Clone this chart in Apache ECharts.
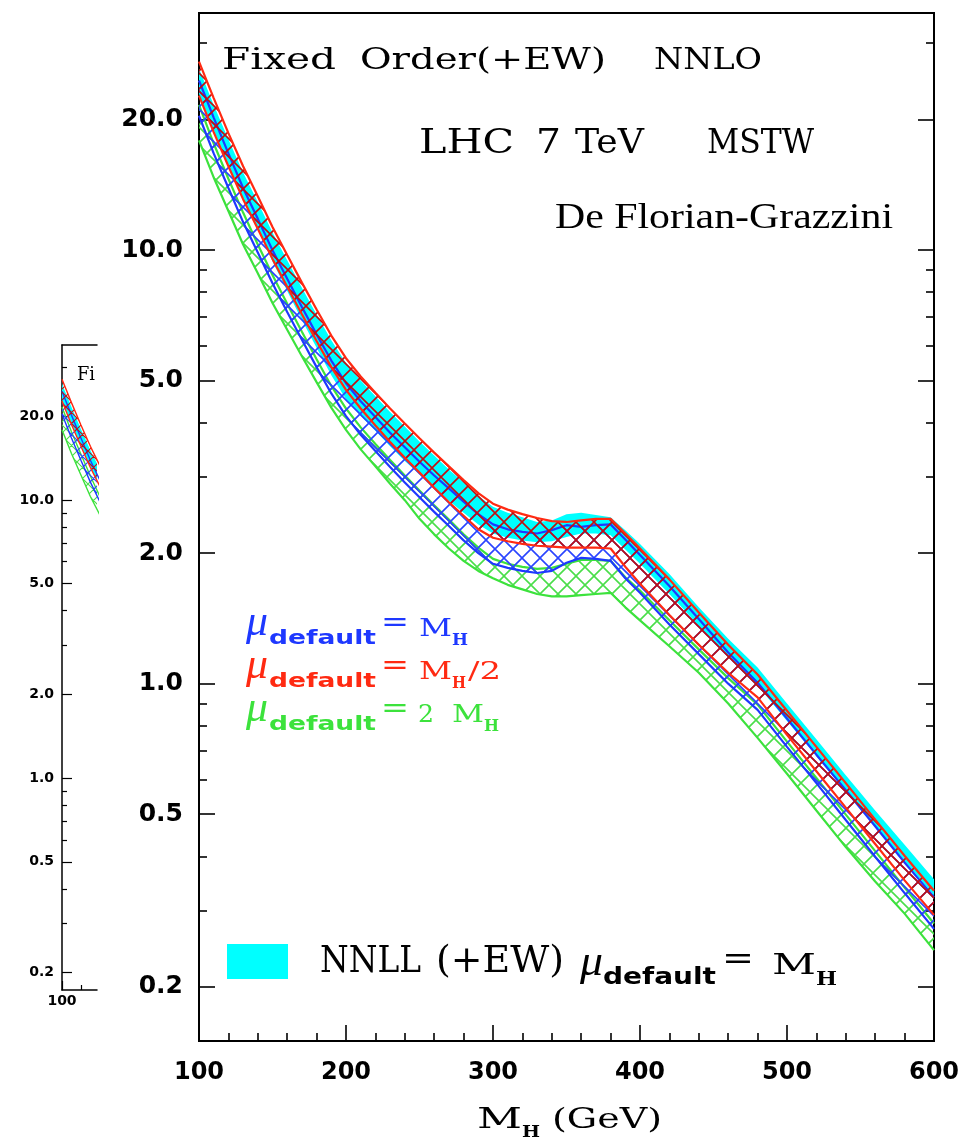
<!DOCTYPE html>
<html>
<head>
<meta charset="utf-8">
<script src="https://cdn.jsdelivr.net/npm/echarts@6/dist/echarts.min.js"></script>
<style>
  html, body { margin: 0; padding: 0; background: #ffffff; }
  #chart { width: 960px; height: 1141px; }
</style>
</head>
<body>
<div id="chart"></div>
<script>
// Higgs mass grid (GeV)
const massGeV = [100,110,120,130,140,150,160,170,180,190,200,210,220,230,240,250,260,270,280,290,300,310,320,330,340,350,360,370,380,390,400,420,440,460,480,500,520,540,560,580,600];

// NNLL (+EW), mu_default = M_H  (cross section, pb)
const nnllHigh = [26.2,21.6,18.0,15.1,12.9,10.97,9.47,8.18,7.10,6.19,5.49,5.00,4.60,4.23,3.92,3.62,3.36,3.12,2.91,2.71,2.56,2.48,2.42,2.36,2.38,2.46,2.48,2.45,2.42,2.26,2.10,1.79,1.50,1.27,1.09,0.90,0.745,0.615,0.51,0.425,0.354];
const nnllLow  = [22.9,18.9,15.7,13.2,11.2,9.41,8.04,6.90,5.95,5.14,4.53,4.14,3.83,3.53,3.26,3.04,2.83,2.64,2.48,2.33,2.22,2.17,2.14,2.12,2.13,2.18,2.22,2.22,2.20,2.04,1.89,1.61,1.36,1.16,0.99,0.82,0.68,0.565,0.47,0.39,0.325];

// Fixed order NNLO, mu_default = M_H
const muHHigh = [24.6,20.2,16.7,13.9,11.8,9.99,8.58,7.39,6.39,5.56,4.93,4.48,4.12,3.79,3.51,3.25,3.02,2.82,2.63,2.46,2.33,2.27,2.24,2.22,2.26,2.32,2.30,2.32,2.33,2.15,1.98,1.68,1.41,1.18,1.005,0.831,0.686,0.568,0.469,0.387,0.322];
const muHLow  = [20.4,16.7,13.9,11.6,9.87,8.38,7.20,6.21,5.37,4.67,4.14,3.75,3.44,3.16,2.91,2.69,2.49,2.31,2.14,2.00,1.89,1.85,1.82,1.80,1.82,1.90,1.95,1.94,1.92,1.75,1.62,1.37,1.17,1.00,0.87,0.715,0.59,0.485,0.399,0.329,0.272];

// Fixed order NNLO, mu_default = M_H/2
const muHalfHigh = [27.2,22.4,18.6,15.6,13.3,11.3,9.74,8.41,7.29,6.35,5.63,5.11,4.69,4.31,3.98,3.68,3.41,3.17,2.95,2.75,2.60,2.52,2.46,2.41,2.37,2.36,2.38,2.40,2.40,2.22,2.05,1.74,1.46,1.23,1.05,0.866,0.715,0.590,0.486,0.401,0.333];
const muHalfLow  = [22.7,18.7,15.6,13.1,11.2,9.54,8.23,7.11,6.17,5.37,4.76,4.31,3.94,3.61,3.32,3.07,2.83,2.62,2.44,2.27,2.17,2.13,2.10,2.08,2.07,2.06,2.06,2.06,2.05,1.86,1.70,1.44,1.23,1.06,0.93,0.762,0.628,0.518,0.427,0.352,0.293];

// Fixed order NNLO, mu_default = 2 M_H
const mu2High = [21.6,17.6,14.6,12.2,10.3,8.76,7.52,6.48,5.60,4.86,4.31,3.90,3.57,3.28,3.02,2.79,2.58,2.39,2.21,2.06,1.94,1.89,1.86,1.84,1.85,1.89,1.93,1.93,1.92,1.76,1.64,1.40,1.20,1.03,0.895,0.735,0.606,0.499,0.411,0.339,0.28];
const mu2Low  = [17.9,14.7,12.3,10.3,8.84,7.55,6.55,5.69,4.96,4.33,3.85,3.47,3.17,2.89,2.65,2.40,2.21,2.05,1.92,1.82,1.75,1.69,1.65,1.61,1.59,1.59,1.60,1.61,1.62,1.50,1.40,1.22,1.06,0.90,0.75,0.62,0.51,0.42,0.35,0.295,0.243];

// axis ticks
const yMajorTicks = [0.2, 0.5, 1, 2, 5, 10, 20];
const yMinorTicks = [0.3, 0.4, 0.6, 0.7, 0.8, 0.9, 3, 4, 6, 7, 8, 9, 30];
const insetXMajor = [100];
const insetXMinor = [120];

const RED = '#ff2a12', RED_HATCH = '#c01010';
const BLUE = '#1e38ff', BLUE_HATCH = '#2a44ff';
const GREEN = '#3ce23c', GREEN_HATCH = '#4ade4a';
const CYAN = '#00ffff';

function hatchPattern(color, size, width) {
  const c = document.createElement('canvas');
  c.width = size; c.height = size;
  const g = c.getContext('2d');
  g.strokeStyle = color;
  g.lineWidth = width;
  g.beginPath();
  for (const o of [-size, 0, size]) {
    g.moveTo(o - 1, -1); g.lineTo(o + size + 1, size + 1);
    g.moveTo(o + size + 1, -1); g.lineTo(o - 1, size + 1);
  }
  g.stroke();
  return { image: c, repeat: 'repeat' };
}

function bandSeries(lo, hi, fill, xIdx, yIdx, z) {
  return {
    type: 'custom',
    xAxisIndex: xIdx, yAxisIndex: yIdx, z: z, silent: true,
    data: massGeV.map((m, i) => [m, lo[i], hi[i]]),
    encode: { x: 0, y: [1, 2] },
    renderItem(params, api) {
      if (params.dataIndex !== 0) return null;
      const pts = [];
      for (let i = 0; i < massGeV.length; i++) pts.push(api.coord([massGeV[i], hi[i]]));
      for (let i = massGeV.length - 1; i >= 0; i--) pts.push(api.coord([massGeV[i], lo[i]]));
      const cs = params.coordSys;
      return {
        type: 'polygon',
        shape: { points: pts },
        style: { fill: fill, stroke: null },
        clipPath: { type: 'rect', shape: { x: cs.x, y: cs.y, width: cs.width, height: cs.height } }
      };
    }
  };
}

function edgeSeries(vals, color, width, xIdx, yIdx, z) {
  return {
    type: 'line', xAxisIndex: xIdx, yAxisIndex: yIdx, z: z, silent: true,
    showSymbol: false, symbol: 'none', clip: true,
    data: massGeV.map((m, i) => [m, vals[i]]),
    lineStyle: { color: color, width: width }
  };
}

const series = [];
// [xAxisIndex, yAxisIndex, hatch size, hatch width, edge width]
const frames = [[0, 0, 18, 1.6, 2.2], [1, 4, 11, 1.1, 1.4]];
frames.forEach(([xi, yi, hs, hw, ew]) => {
  series.push(bandSeries(nnllLow, nnllHigh, CYAN, xi, yi, 1));
  series.push(bandSeries(mu2Low, mu2High, hatchPattern(GREEN_HATCH, hs, hw), xi, yi, 2));
  series.push(edgeSeries(mu2Low, GREEN, ew, xi, yi, 3));
  series.push(edgeSeries(mu2High, GREEN, ew, xi, yi, 3));
  series.push(bandSeries(muHLow, muHHigh, hatchPattern(BLUE_HATCH, hs, hw), xi, yi, 4));
  series.push(edgeSeries(muHLow, BLUE, ew, xi, yi, 5));
  series.push(edgeSeries(muHHigh, BLUE, ew, xi, yi, 5));
  series.push(bandSeries(muHalfLow, muHalfHigh, hatchPattern(RED_HATCH, hs, hw), xi, yi, 6));
  series.push(edgeSeries(muHalfLow, RED, ew, xi, yi, 7));
  series.push(edgeSeries(muHalfHigh, RED, ew, xi, yi, 7));
});

// ---- text helpers ----
const ROMAN = "'DejaVu Serif', 'Liberation Serif', serif";
const TIMES = "'Liberation Serif', 'DejaVu Serif', serif";
const SANS = "'DejaVu Sans', 'Liberation Sans', sans-serif";
const measureCtx = document.createElement('canvas').getContext('2d');
function fitText(str, x0, x1, yc, size, family, color, weight, fstyle) {
  const font = (fstyle || 'normal') + ' ' + (weight || 'normal') + ' ' + size + 'px ' + family;
  measureCtx.font = font;
  const w = measureCtx.measureText(str).width;
  return {
    type: 'text', x: x0, y: yc, scaleX: (x1 - x0) / w, silent: true, z: 100,
    style: {
      text: str, x: 0, y: 0, font: font, fill: color || '#000',
      align: 'left', verticalAlign: 'middle', textAlign: 'left', textVerticalAlign: 'middle'
    }
  };
}

function muLegend(baseY, color, rhs) {
  const els = [
    fitText('\u03bc', 246, 268, baseY - 15, 44, TIMES, color, 'normal', 'italic'),
    fitText('default', 269, 376, baseY + 1, 19, SANS, color, 'bold'),
    fitText('=', 381, 409, baseY - 14, 28, ROMAN, color)
  ];
  rhs.forEach(p => els.push(fitText(p[0], p[1], p[2], baseY + p[3], p[4], ROMAN, color, p[5] || 'normal')));
  return els;
}

const graphics = [].concat(
  [
    fitText('Fixed', 222, 336, 61, 30, ROMAN),
    fitText('Order(+EW)', 360, 606, 61, 30, ROMAN),
    fitText('NNLO', 654, 762, 61, 30, ROMAN),
    fitText('LHC', 419, 514, 144.5, 34, ROMAN),
    fitText('7', 536, 561, 144.5, 34, ROMAN),
    fitText('TeV', 575, 644, 144.5, 34, ROMAN),
    fitText('MSTW', 707, 814, 144.5, 34, ROMAN),
    fitText('De Florian-Grazzini', 555, 893, 218.5, 35, TIMES)
  ],
  muLegend(638, BLUE, [['M', 419, 452, -9, 25], ['H', 452, 468, 3, 16, 'bold']]),
  muLegend(681, RED, [['M', 419, 452, -9, 25], ['H', 452, 466, 3, 16, 'bold'], ['/2', 468, 501, -9, 25]]),
  muLegend(724, GREEN, [['2', 418, 434, -9, 25], ['M', 452, 484, -9, 25], ['H', 484, 499, 3, 16, 'bold']]),
  [
    { type: 'rect', shape: { x: 227, y: 944, width: 61, height: 35 }, style: { fill: CYAN }, silent: true, z: 100 },
    fitText('NNLL', 320, 421, 962.5, 38, ROMAN),
    fitText('(+EW)', 436, 564, 962.5, 38, ROMAN),
    fitText('\u03bc', 580, 603, 963, 44, TIMES, '#000', 'normal', 'italic'),
    fitText('default', 603, 716, 978, 23, SANS, '#000', 'bold'),
    fitText('=', 722, 754, 961, 32, ROMAN),
    fitText('M', 772, 816, 967, 28, ROMAN),
    fitText('H', 816, 837, 980, 18, ROMAN, '#000', 'bold'),
    fitText('M', 477, 522, 1121, 27, ROMAN),
    fitText('H', 522, 540, 1133, 16, ROMAN, '#000', 'bold'),
    fitText('(GeV)', 552, 662, 1121, 27, ROMAN),
    fitText('Fi', 77, 95, 375, 19, ROMAN)
  ]
);

const labelFont = { fontFamily: SANS, fontWeight: 'bold', fontSize: 24, color: '#000' };
const yLabelFont = { fontFamily: SANS, fontWeight: 'bold', fontSize: 25, color: '#000' };
const smallFont = { fontFamily: SANS, fontWeight: 'bold', fontSize: 14, color: '#000' };
const black = (w) => ({ color: '#000', width: w });
const fmt = v => Number(v).toFixed(1);

const option = {
  animation: false,
  backgroundColor: '#ffffff',
  grid: [
    { left: 199, top: 13, width: 735, height: 1028, outerBoundsMode: 'none', containLabel: false,
      show: true, borderColor: '#000', borderWidth: 2, backgroundColor: 'transparent' },
    { left: 62, top: 345, width: 35, height: 645, outerBoundsMode: 'none', containLabel: false, show: false }
  ],
  xAxis: [
    { gridIndex: 0, type: 'value', min: 100, max: 600, interval: 100, position: 'bottom',
      axisLine: { show: true, lineStyle: black(2) },
      axisTick: { show: true, inside: true, length: 16, lineStyle: black(1.6) },
      minorTick: { show: true, splitNumber: 5, length: 8, lineStyle: black(1.6) },
      axisLabel: Object.assign({ margin: 20 }, labelFont),
      splitLine: { show: false }, minorSplitLine: { show: false } },
    { gridIndex: 1, type: 'value', min: 100, max: 137, position: 'bottom',
      axisLine: { show: true, lineStyle: black(1.5) },
      axisTick: { show: true, inside: true, length: 9, customValues: insetXMajor, lineStyle: black(1.2) },
      axisLabel: Object.assign({ margin: 4, customValues: insetXMajor }, smallFont),
      splitLine: { show: false } },
    { gridIndex: 1, type: 'value', min: 100, max: 137, position: 'bottom',
      axisLine: { show: false },
      axisTick: { show: true, inside: true, length: 5, customValues: insetXMinor, lineStyle: black(1.2) },
      axisLabel: { show: false }, splitLine: { show: false } },
    { gridIndex: 1, type: 'value', min: 100, max: 137, position: 'top',
      axisLine: { show: true, lineStyle: black(1.5) },
      axisTick: { show: false }, axisLabel: { show: false }, splitLine: { show: false } }
  ],
  yAxis: [
    { gridIndex: 0, type: 'log', logBase: 10, min: 0.15, max: 35.2, position: 'left',
      axisLine: { show: true, lineStyle: black(2) },
      axisTick: { show: true, inside: true, length: 16, customValues: yMajorTicks, lineStyle: black(1.6) },
      axisLabel: Object.assign({ margin: 16, customValues: yMajorTicks, formatter: fmt }, yLabelFont),
      splitLine: { show: false } },
    { gridIndex: 0, type: 'log', logBase: 10, min: 0.15, max: 35.2, position: 'left',
      axisLine: { show: false },
      axisTick: { show: true, inside: true, length: 8, customValues: yMinorTicks, lineStyle: black(1.6) },
      axisLabel: { show: false }, splitLine: { show: false } },
    { gridIndex: 0, type: 'log', logBase: 10, min: 0.15, max: 35.2, position: 'right',
      axisLine: { show: true, lineStyle: black(2) },
      axisTick: { show: true, inside: true, length: 16, customValues: yMajorTicks, lineStyle: black(1.6) },
      axisLabel: { show: false }, splitLine: { show: false } },
    { gridIndex: 0, type: 'log', logBase: 10, min: 0.15, max: 35.2, position: 'right',
      axisLine: { show: false },
      axisTick: { show: true, inside: true, length: 8, customValues: yMinorTicks, lineStyle: black(1.6) },
      axisLabel: { show: false }, splitLine: { show: false } },
    { gridIndex: 1, type: 'log', logBase: 10, min: 0.173, max: 36.1, position: 'left',
      axisLine: { show: true, lineStyle: black(1.5) },
      axisTick: { show: true, inside: true, length: 10, customValues: yMajorTicks, lineStyle: black(1.2) },
      axisLabel: Object.assign({ margin: 8, customValues: yMajorTicks, formatter: fmt }, smallFont),
      splitLine: { show: false } },
    { gridIndex: 1, type: 'log', logBase: 10, min: 0.173, max: 36.1, position: 'left',
      axisLine: { show: false },
      axisTick: { show: true, inside: true, length: 5, customValues: yMinorTicks, lineStyle: black(1.2) },
      axisLabel: { show: false }, splitLine: { show: false } }
  ],
  series: series,
  graphic: { elements: graphics }
};

const chart = echarts.init(document.getElementById('chart'), null, { renderer: 'canvas' });
chart.setOption(option);
</script>
</body>
</html>
